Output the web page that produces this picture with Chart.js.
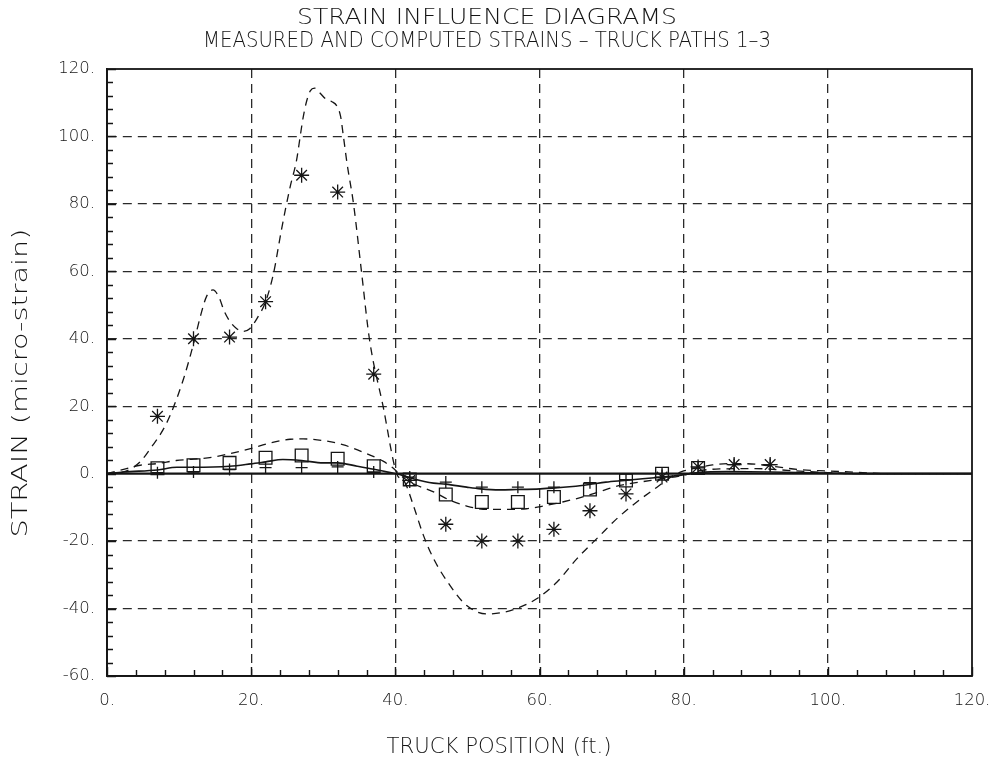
<!DOCTYPE html>
<html>
<head>
<meta charset="utf-8">
<script src="https://cdn.jsdelivr.net/npm/chart.js@4.4.1/dist/chart.umd.min.js"></script>
<style>
  html, body { margin: 0; padding: 0; background: #fff; }
  #wrap { width: 1007px; height: 761px; }
</style>
</head>
<body>
<div id="wrap"><canvas id="c" width="1007" height="761"></canvas></div>
<script>
// Truck positions (ft) where strains were measured
const positions = [7, 12, 17, 22, 27, 32, 37, 42, 47, 52, 57, 62, 67, 72, 77, 82, 87, 92];

// Measured strains (micro-strain), one list per truck path
const measuredPath1 = [17, 40, 40.5, 51, 88.5, 83.5, 29.5, -2, -15, -20, -20, -16.5, -11, -6, -1, 2, 2.7, 2.7];
const measuredPath2 = [1.6, 2.5, 3.2, 4.7, 5.4, 4.4, 2.2, -1.7, -6.2, -8.4, -8.4, -6.9, -4.7, -2, 0, 1.7, null, null];
const measuredPath3 = [0.3, 0.5, 1.2, 1.8, 1.8, 2, 0.5, -1, -2.5, -4, -4, -4, -2.7, -1.8, 0, 1.7, 2.7, 2.7];

// Computed influence lines
const computed1X = [0, 2.3, 4.6, 6.2, 7.5, 8.7, 10.6, 12, 13, 13.8, 14.7, 15.5, 16.3, 17.1, 18, 18.9, 19.8, 20.8, 22, 23.1, 24.2, 25.4, 26.3, 26.8, 27.2, 27.7, 28.2, 28.8, 29.5, 30.3, 31.2, 31.9, 32.4, 32.8, 33.3, 34.2, 35.3, 36.4, 38.3, 40.2, 41.3, 42.5, 43.9, 45.3, 47.6, 49.9, 52.7, 55, 57.3, 59.6, 62.4, 65.2, 68.4, 70.7, 73.5, 76.3, 78.6, 80, 82, 84, 87, 90, 93, 96, 100, 104, 108, 120];
const computed1Y = [0, 0.5, 3.5, 8, 12, 17, 28, 38.5, 47, 52.5, 54.5, 52.5, 48, 45, 43, 42.2, 43, 46, 51, 59.4, 72.3, 85, 93, 100, 105.5, 110.5, 113.5, 114.3, 113, 111.2, 110.3, 109, 106, 100, 92, 80, 60, 40, 20, 0, -2.5, -9.4, -18.3, -25.2, -33.2, -39.1, -41.6, -41.1, -39.6, -37.1, -32.2, -25.2, -18.3, -13.4, -8.4, -4, -0.5, 0.8, 1.8, 2.6, 3, 2.8, 2, 1.2, 0.8, 0.4, 0, 0];

const computed2X = [0, 2.3, 4.6, 7, 9.6, 12, 14.7, 17, 19.9, 22.6, 25.4, 27.2, 30, 32.7, 35.5, 38.3, 39.6, 41, 42.5, 45.3, 47.6, 49.9, 52.7, 55.4, 58.2, 60.5, 63.2, 66, 68.8, 71.1, 73.9, 77.1, 79.9, 82, 85, 90, 95, 100, 104, 120];
const computed2Y = [0, 1.3, 2.5, 3, 3.9, 4.3, 4.9, 5.9, 7.4, 9.1, 10.2, 10.3, 9.8, 8.6, 6.4, 3.7, 1.8, -1, -3, -5.4, -7.9, -9.6, -10.6, -10.6, -10.4, -9.6, -8.4, -6.9, -5, -3.5, -2.5, -1.5, -0.5, 0.8, 1.4, 1.5, 0.9, 0.3, 0, 0];

const computed3X = [0, 2.3, 7, 9.7, 12, 17, 19.9, 22, 24.4, 27, 30, 32, 34.7, 37, 39.3, 41, 42.5, 45.3, 47, 49.9, 51.8, 54.5, 56.8, 60.1, 61.8, 64.6, 66.9, 69.2, 71.8, 74.3, 77.1, 79.4, 82, 86, 92, 100, 105, 120];
const computed3Y = [0, 0.5, 1.1, 1.9, 1.9, 2.2, 2.9, 3.5, 4.2, 3.9, 3.2, 3.2, 2.2, 1.3, 0.3, -0.5, -1.5, -2.8, -3.1, -4, -4.5, -4.8, -4.7, -4.5, -4.3, -3.8, -3.2, -2.5, -2, -1.5, -1, -0.5, 0.3, 0.6, 0.5, 0.2, 0, 0];

// Axis ranges and tick steps
const xRange = [0, 120];
const yRange = [-60, 120];
const majorStep = 20;
const minorStep = 4;

const TITLE = 'STRAIN INFLUENCE DIAGRAMS';
const SUBTITLE = 'MEASURED AND COMPUTED STRAINS \u2013 TRUCK PATHS 1\u20133';
const X_TITLE = 'TRUCK POSITION (ft.)';
const Y_TITLE = 'STRAIN (micro-strain)';

const INK = '#151515';
const FONT_FAMILY = '"DejaVu Sans", "Liberation Sans", sans-serif';

const pairs = (xs, ys) => xs.map((x, i) => ({ x, y: ys[i] }));

function markerSet(label, values, style, radius) {
  return {
    label,
    data: pairs(positions, values),
    showLine: false,
    pointStyle: style,
    pointRadius: radius,
    pointHoverRadius: radius,
    pointBorderColor: INK,
    pointBackgroundColor: 'rgba(0,0,0,0)',
    pointBorderWidth: 1.3,
    order: 1
  };
}

function curveSet(label, xs, ys, dash, width) {
  return {
    label,
    data: pairs(xs, ys),
    showLine: true,
    borderColor: INK,
    borderWidth: width,
    borderDash: dash,
    pointRadius: 0,
    cubicInterpolationMode: 'monotone',
    fill: false,
    order: 2
  };
}

// Draws a line of text stretched to a set width
function fitText(ctx, text, cx, cy, width, size, rotate) {
  ctx.save();
  ctx.font = '200 ' + size + 'px ' + FONT_FAMILY;
  ctx.fillStyle = INK;
  ctx.textAlign = 'center';
  ctx.textBaseline = 'middle';
  const w = ctx.measureText(text).width;
  ctx.translate(cx, cy);
  if (rotate) ctx.rotate(-Math.PI / 2);
  ctx.scale(width / w, 1);
  ctx.fillText(text, 0, 0);
  ctx.restore();
}

const framePlugin = {
  id: 'frame',
  beforeDatasetsDraw(chart) {
    const { ctx, chartArea: a, scales: { y } } = chart;
    // solid zero line
    ctx.save();
    ctx.strokeStyle = INK;
    ctx.lineWidth = 2.4;
    const y0 = y.getPixelForValue(0);
    ctx.beginPath();
    ctx.moveTo(a.left, y0);
    ctx.lineTo(a.right, y0);
    ctx.stroke();
    ctx.restore();
  },
  afterDraw(chart) {
    const { ctx, chartArea: a, scales: { x, y } } = chart;
    ctx.save();
    ctx.strokeStyle = INK;
    ctx.lineWidth = 1.8;
    ctx.strokeRect(a.left, a.top, a.right - a.left, a.bottom - a.top);
    // inward tick marks on the left and bottom axes
    ctx.lineWidth = 1.4;
    ctx.beginPath();
    for (let v = yRange[0]; v <= yRange[1]; v += minorStep) {
      const py = Math.round(y.getPixelForValue(v)) + 0.5;
      const len = (v % majorStep === 0) ? 9 : 6;
      ctx.moveTo(a.left, py);
      ctx.lineTo(a.left + len, py);
    }
    for (let v = xRange[0]; v <= xRange[1]; v += minorStep) {
      const px = Math.round(x.getPixelForValue(v)) + 0.5;
      const len = (v % majorStep === 0) ? 9 : 6;
      ctx.moveTo(px, a.bottom);
      ctx.lineTo(px, a.bottom - len);
    }
    ctx.stroke();
    ctx.restore();

    fitText(ctx, TITLE, 487, 18, 380, 22, false);
    fitText(ctx, SUBTITLE, 487, 41, 568, 22, false);
    fitText(ctx, X_TITLE, 499, 748, 225, 21, false);
    fitText(ctx, Y_TITLE, 22, 383, 309, 21, true);
  }
};

const gridColor = (edgeValues) => (c) =>
  (c.tick && edgeValues.includes(c.tick.value)) ? 'rgba(0,0,0,0)' : '#2a2a2a';

const tickFont = { family: FONT_FAMILY, size: 16.5, weight: '200' };

new Chart(document.getElementById('c'), {
  type: 'scatter',
  data: {
    datasets: [
      markerSet('Measured, path 1', measuredPath1, 'star', 7.5),
      markerSet('Measured, path 2', measuredPath2, 'rect', 9),
      markerSet('Measured, path 3', measuredPath3, 'cross', 6),
      curveSet('Computed, path 1', computed1X, computed1Y, [8, 6], 1.3),
      curveSet('Computed, path 2', computed2X, computed2Y, [8, 6], 1.3),
      curveSet('Computed, path 3', computed3X, computed3Y, [], 1.6)
    ]
  },
  options: {
    responsive: false,
    animation: false,
    devicePixelRatio: 1,
    layout: { padding: { top: 69, right: 35, left: 0, bottom: 0 } },
    plugins: {
      legend: { display: false },
      tooltip: { enabled: false },
      title: { display: false }
    },
    scales: {
      x: {
        type: 'linear',
        min: xRange[0],
        max: xRange[1],
        afterFit: (s) => { s.height = 85; },
        ticks: {
          stepSize: majorStep,
          padding: 15,
          color: INK,
          font: tickFont,
          callback: (v) => v + '.',
          maxRotation: 0
        },
        grid: {
          color: gridColor(xRange),
          lineWidth: 1.3,
          drawTicks: false
        },
        border: { display: true, color: INK, width: 1.8, dash: [9, 6] }
      },
      y: {
        type: 'linear',
        min: yRange[0],
        max: yRange[1],
        afterFit: (s) => { s.width = 107; },
        ticks: {
          stepSize: majorStep,
          padding: 12,
          color: INK,
          font: tickFont,
          callback: (v) => v + '.'
        },
        grid: {
          color: gridColor([yRange[0], 0, yRange[1]]),
          lineWidth: 1.3,
          drawTicks: false
        },
        border: { display: true, color: INK, width: 1.8, dash: [9, 6] }
      }
    }
  },
  plugins: [framePlugin]
});
</script>
</body>
</html>
